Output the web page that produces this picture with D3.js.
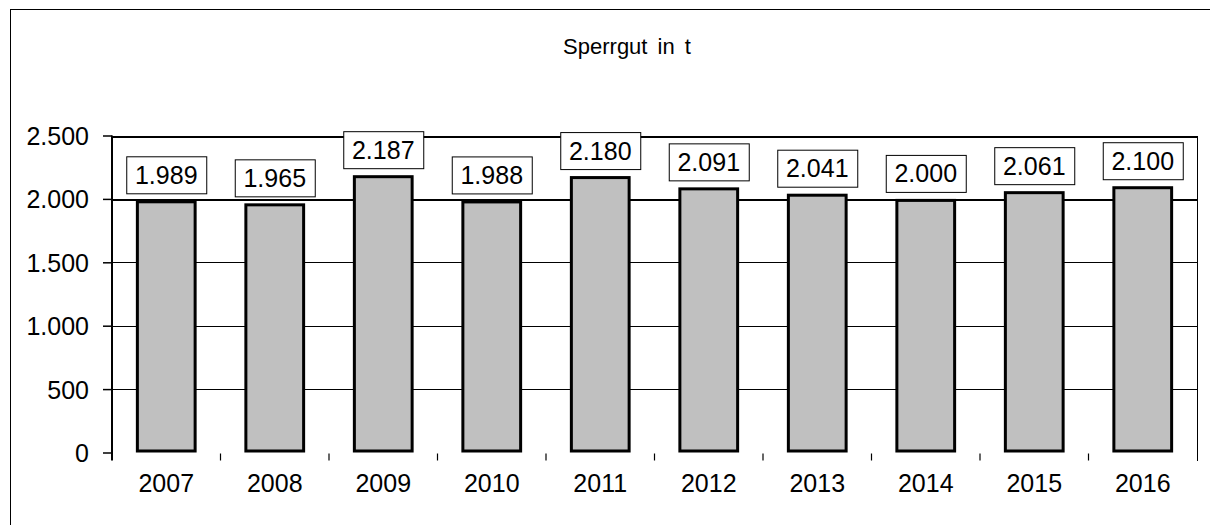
<!DOCTYPE html>
<html>
<head>
<meta charset="utf-8">
<script src="https://cdn.jsdelivr.net/npm/d3@7"></script>
<style>
  body { margin: 0; background: #fff; }
  text { font-family: "Liberation Sans", Arial, sans-serif; fill: #000; }
</style>
</head>
<body>
<svg id="chart" width="1210" height="525"></svg>
<script>
// data
const years = ["2007", "2008", "2009", "2010", "2011", "2012", "2013", "2014", "2015", "2016"];
const tonnes = [1989, 1965, 2187, 1988, 2180, 2091, 2041, 2000, 2061, 2100];
const yTicks = [0, 500, 1000, 1500, 2000, 2500];
const title = "Sperrgut in t";

const de = d3.formatLocale({ decimal: ",", thousands: ".", grouping: [3], currency: ["", " €"] });
const fmt = de.format(",");

const svg = d3.select("#chart");

// plot area
const plotLeft = 112, plotRight = 1197, plotTop = 135.5, plotBottom = 452.5;

const x = d3.scaleBand()
  .domain(years)
  .range([plotLeft, plotRight])
  .paddingInner(0.44)
  .paddingOuter(0.22);

const y = d3.scaleLinear()
  .domain([0, 2500])
  .range([plotBottom, plotTop]);

// outer frame (runs off the picture right and bottom)
svg.append("rect")
  .attr("x", 10.5).attr("y", 9.5)
  .attr("width", 1250).attr("height", 560)
  .attr("fill", "none").attr("stroke", "#000").attr("stroke-width", 1);

// title
svg.append("text")
  .attr("x", 627).attr("y", 54)
  .attr("text-anchor", "middle")
  .attr("font-size", 22)
  .attr("word-spacing", 4)
  .text(title);

// gridlines
svg.append("g")
  .attr("shape-rendering", "crispEdges")
  .selectAll("line")
  .data(yTicks.filter(d => d > 0))
  .enter()
  .append("line")
  .attr("x1", plotLeft).attr("x2", plotRight)
  .attr("y1", d => Math.round(y(d)) + 0.5).attr("y2", d => Math.round(y(d)) + 0.5)
  .attr("stroke", "#000")
  .attr("stroke-width", d => d === 2500 ? 2 : (d === 2000 ? 2 : 1));

// right border of plot
svg.append("line")
  .attr("shape-rendering", "crispEdges")
  .attr("x1", plotRight).attr("x2", plotRight)
  .attr("y1", plotTop).attr("y2", plotBottom + 8)
  .attr("stroke", "#000").attr("stroke-width", 1);

// y axis
const yAxis = svg.append("g")
  .attr("transform", `translate(${plotLeft},0)`)
  .call(d3.axisLeft(y).tickValues(yTicks).tickFormat(fmt).tickSize(9).tickPadding(14));
yAxis.select(".domain").remove();
yAxis.selectAll("line").attr("stroke", "#000").attr("stroke-width", 1.5);
yAxis.selectAll("text")
  .attr("font-size", 25)
  .attr("font-family", "Liberation Sans, Arial, sans-serif")
  .attr("dy", "0.36em");

svg.append("line")
  .attr("x1", plotLeft).attr("x2", plotLeft)
  .attr("y1", plotTop).attr("y2", plotBottom + 8)
  .attr("stroke", "#000").attr("stroke-width", 2);

// category ticks between bands
const boundaries = d3.range(1, years.length).map(k => plotLeft + k * x.step());
svg.append("g")
  .selectAll("line")
  .data(boundaries)
  .enter()
  .append("line")
  .attr("x1", d => d).attr("x2", d => d)
  .attr("y1", plotBottom + 1).attr("y2", plotBottom + 8)
  .attr("stroke", "#000").attr("stroke-width", 1.2);

// x labels
svg.append("g")
  .selectAll("text")
  .data(years)
  .enter()
  .append("text")
  .attr("x", d => x(d) + x.bandwidth() / 2)
  .attr("y", 492)
  .attr("text-anchor", "middle")
  .attr("font-size", 25)
  .text(d => d);

// bars
const sw = 3;
svg.append("g")
  .selectAll("rect")
  .data(tonnes)
  .enter()
  .append("rect")
  .attr("x", (d, i) => x(years[i]) + sw / 2)
  .attr("y", d => y(d) + sw / 2)
  .attr("width", x.bandwidth() - sw)
  .attr("height", d => y(0) - y(d) - sw)
  .attr("fill", "#c0c0c0")
  .attr("stroke", "#000")
  .attr("stroke-width", sw);

// value labels in boxes
const boxW = 80, boxH = 37, gap = 7;
const labels = svg.append("g")
  .selectAll("g")
  .data(tonnes)
  .enter()
  .append("g")
  .attr("transform", (d, i) =>
    `translate(${x(years[i]) + x.bandwidth() / 2},${y(d) - gap - boxH / 2})`);

labels.append("rect")
  .attr("x", -boxW / 2 + 0.5).attr("y", -boxH / 2 + 0.5)
  .attr("width", boxW).attr("height", boxH)
  .attr("fill", "#fff").attr("stroke", "#000").attr("stroke-width", 1);

labels.append("text")
  .attr("text-anchor", "middle")
  .attr("dy", "0.36em")
  .attr("font-size", 25)
  .text(d => fmt(d));
</script>
</body>
</html>
